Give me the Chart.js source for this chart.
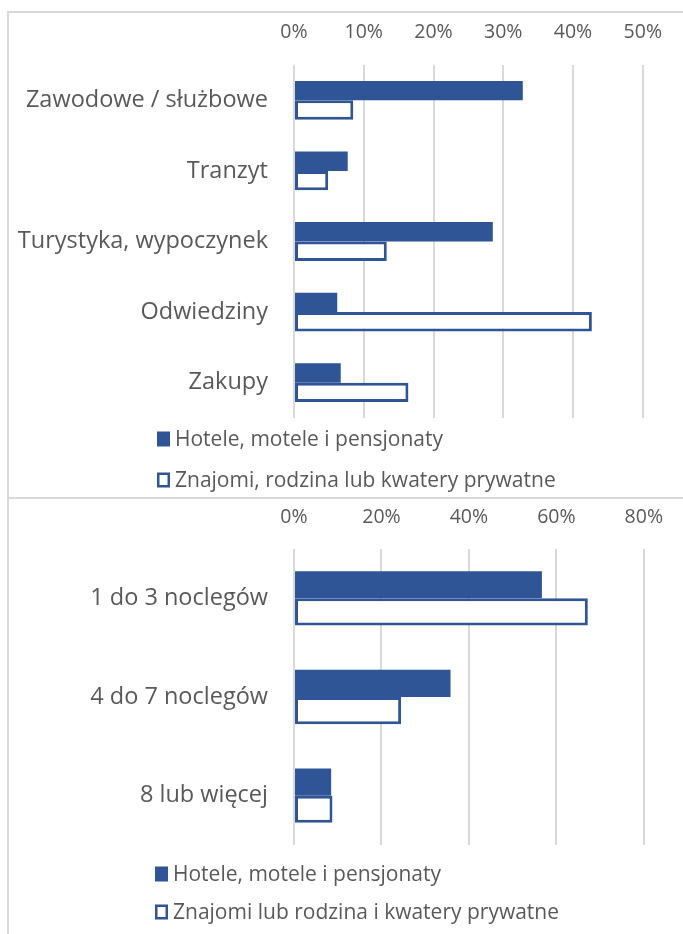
<!DOCTYPE html>
<html>
<head>
    <meta charset="UTF-8">
    <title>Noclegi wg celu podróży i długości pobytu</title>
    <style>
        body { margin: 0; background: #fff; overflow: hidden; width: 683px; height: 934px; position: relative; }
        .frame { position: absolute; left: 7px; width: 720px; border: 2px solid #d9d9d9; }
        #frame1 { top: 11px; height: 484px; }
        #frame2 { top: 497px; height: 480px; border-top: none; }
        canvas { position: absolute; left: 9px; }
        #chartPurpose { top: 13px; }
        #chartNights { top: 499px; }
    </style>
</head>
<body>
    <div class="frame" id="frame1"></div>
    <div class="frame" id="frame2"></div>
    <canvas id="chartPurpose" width="674" height="484"></canvas>
    <canvas id="chartNights" width="674" height="435"></canvas>

    <script src="https://cdn.jsdelivr.net/npm/chart.js@4.4.1/dist/chart.umd.min.js"></script>
    <script>
        // cel podróży (%)
        var purposeLabels = ['Zawodowe / służbowe', 'Tranzyt', 'Turystyka, wypoczynek', 'Odwiedziny', 'Zakupy'];
        var purposeHotel = [32.8, 7.7, 28.5, 6.2, 6.7];
        var purposePrivate = [8.5, 4.9, 13.3, 42.7, 16.4];
        var purposeTicks = [0, 10, 20, 30, 40, 50];

        // liczba noclegów (%)
        var nightsLabels = ['1 do 3 noclegów', '4 do 7 noclegów', '8 lub więcej'];
        var nightsHotel = [56.7, 35.8, 8.5];
        var nightsPrivate = [67.2, 24.5, 8.8];
        var nightsTicks = [0, 20, 40, 60, 80];

        var seriesNames1 = ['Hotele, motele i pensjonaty', 'Znajomi, rodzina lub kwatery prywatne'];
        var seriesNames2 = ['Hotele, motele i pensjonaty', 'Znajomi lub rodzina i kwatery prywatne'];

        var blue = '#2f5597';
        var grey = '#595959';
        var fontFamily = '"Open Sans", sans-serif';

        // legenda pod wykresem, pozycje jedna pod drugą
        var stackedLegend = {
            id: 'stackedLegend',
            afterDraw: function(chart, args, opts) {
                var ctx = chart.ctx;
                ctx.save();
                ctx.font = opts.fontSize + 'px ' + fontFamily;
                ctx.textBaseline = 'middle';
                ctx.textAlign = 'left';
                chart.data.datasets.forEach(function(ds, i) {
                    var cy = chart.chartArea.bottom + opts.offsets[i];
                    var bx = opts.x, bw = 13, bh = 15;
                    if (ds.backgroundColor === '#ffffff') {
                        ctx.fillStyle = '#ffffff';
                        ctx.fillRect(bx, cy - bh / 2, bw, bh);
                        ctx.strokeStyle = blue;
                        ctx.lineWidth = 2.5;
                        ctx.strokeRect(bx + 1.25, cy - bh / 2 + 1.25, bw - 2.5, bh - 2.5);
                    } else {
                        ctx.fillStyle = blue;
                        ctx.fillRect(bx, cy - bh / 2, bw, bh);
                    }
                    ctx.fillStyle = grey;
                    ctx.fillText(ds.label, bx + bw + 5, cy + 1);
                });
                ctx.restore();
            }
        };

        function makeChart(id, labels, hotel, priv, names, ticks, opts) {
            return new Chart(id, {
                type: 'bar',
                data: {
                    labels: labels,
                    datasets: [{
                        label: names[0],
                        data: hotel,
                        backgroundColor: blue,
                        borderWidth: 0
                    }, {
                        label: names[1],
                        data: priv,
                        backgroundColor: '#ffffff',
                        borderColor: blue,
                        borderWidth: 3,
                        borderSkipped: false
                    }]
                },
                options: {
                    indexAxis: 'y',
                    responsive: false,
                    animation: false,
                    categoryPercentage: 0.55,
                    barPercentage: 1,
                    layout: { padding: { top: 0, right: 36, bottom: opts.bottom, left: 0 } },
                    plugins: {
                        legend: { display: false },
                        tooltip: { enabled: false },
                        stackedLegend: { x: opts.legendX, offsets: opts.legendOffsets, fontSize: 21 }
                    },
                    scales: {
                        x: {
                            position: 'top',
                            min: ticks[0],
                            max: ticks[ticks.length - 1],
                            afterBuildTicks: function(scale) {
                                scale.ticks = ticks.map(function(v) { return { value: v }; });
                            },
                            afterFit: function(scale) { scale.height = opts.top; },
                            border: { display: false },
                            grid: { color: '#d9d9d9', lineWidth: 2, drawTicks: false },
                            ticks: {
                                padding: opts.tickPad,
                                color: grey,
                                font: { family: fontFamily, size: 19.5 },
                                callback: function(v) { return v + '%'; }
                            }
                        },
                        y: {
                            afterFit: function(scale) { scale.width = 285; },
                            border: { display: false },
                            grid: { display: false, drawTicks: false },
                            ticks: {
                                padding: 26,
                                color: grey,
                                font: { family: fontFamily, size: 23.5 }
                            }
                        }
                    }
                },
                plugins: [stackedLegend]
            });
        }

        makeChart('chartPurpose', purposeLabels, purposeHotel, purposePrivate, seriesNames1, purposeTicks,
            { top: 52, bottom: 79, tickPad: 21, legendX: 148, legendOffsets: [21, 62] });
        makeChart('chartNights', nightsLabels, nightsHotel, nightsPrivate, seriesNames2, nightsTicks,
            { top: 50, bottom: 89, tickPad: 20, legendX: 146, legendOffsets: [29, 67] });
    </script>
</body>
</html>
